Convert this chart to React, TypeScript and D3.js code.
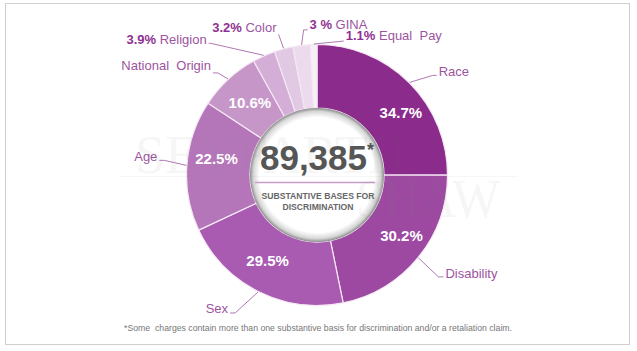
import React, { useEffect, useRef } from 'react';
import * as d3 from 'd3';

// chart values
const categories = ['Race', 'Disability', 'Sex', 'Age', 'National  Origin', 'Religion', 'Color', 'GINA', 'Equal  Pay'];
const percents = [34.7, 30.2, 29.5, 22.5, 10.6, 3.9, 3.2, 3, 1.1];
const percentLabels = ['34.7%', '30.2%', '29.5%', '22.5%', '10.6%', '3.9%', '3.2%', '3 %', '1.1%'];
const labelInside = [true, true, true, true, true, false, false, false, false];
const sliceColors = ['#8b2b8c', '#9d49a1', '#a95bb1', '#b576b9', '#c696c9', '#d4aed6', '#e1c8e3', '#ecdbed', '#f7eff7'];
const totalText = '89,385';
const subtitleLines = ['SUBSTANTIVE BASES FOR', 'DISCRIMINATION'];
const footnote = '*Some  charges contain more than one substantive basis for discrimination and/or a retaliation claim.';

// label placement tweaks (layout only)
const insideNudge = [[14, 7], [8, -2], [-5, -3], [-2, -9], [0, 0]];
const elbows = [[23, -7], [20, 19], [-23, 21], [-22, -5], [-10, -6], [-53, -12], [-5, -14], [2, -15], [30, -3]];
const tails = [4, 5, -5, -5, -5, -2, 0, 4, 0];
const labelDy = [1, 1, 0, 1, -3, 1, -2, -1, -1];

const W = 637;
const H = 351;

const DonutChart = () => {
  const svgRef = useRef(null);

  useEffect(() => {
    const cx = 317;
    const cy = 175;
    const innerR = 67;
    const outerR = 130.5;

    const root = d3.select(svgRef.current);
    root.selectAll('*').remove();
    root.attr('width', W).attr('height', H);

    // white rim gradient for the hole
    const defs = root.append('defs');
    const grad = defs.append('radialGradient').attr('id', 'hole');
    grad.append('stop').attr('offset', '0%').attr('stop-color', '#fff');
    grad.append('stop').attr('offset', '86%').attr('stop-color', '#fff');
    grad.append('stop').attr('offset', '95%').attr('stop-color', '#d6d6d6');
    grad.append('stop').attr('offset', '100%').attr('stop-color', '#8c8c8c');

    root.append('rect')
      .attr('x', 5.5).attr('y', 3.5)
      .attr('width', 624).attr('height', 341)
      .attr('fill', '#fff')
      .attr('stroke', '#cfcfcf');

    const g = root.append('g').attr('transform', `translate(${cx},${cy})`);

    const pie = d3.pie().sort(null).value((d) => d);
    const arcs = pie(percents);
    const arc = d3.arc().innerRadius(innerR).outerRadius(outerR);
    const edgeArc = d3.arc().innerRadius(outerR + 0.5).outerRadius(outerR + 0.5);

    g.selectAll('path.slice')
      .data(arcs)
      .enter()
      .append('path')
      .attr('class', 'slice')
      .attr('d', arc)
      .attr('fill', (d, i) => sliceColors[i])
      .attr('stroke', '#f4e8f4')
      .attr('stroke-width', 1.2);

    // hole
    g.append('circle').attr('r', innerR).attr('fill', 'url(#hole)');

    // watermark
    const wm = root.append('g').attr('fill', '#7a7a7a').attr('opacity', 0.06)
      .style('font-family', '"Liberation Serif", "DejaVu Serif", serif');
    wm.append('text').attr('x', 135).attr('y', 173).attr('font-size', 54)
      .attr('textLength', 272).attr('lengthAdjust', 'spacingAndGlyphs').text('SEYFARTH');
    wm.append('text').attr('x', 356).attr('y', 217).attr('font-size', 54)
      .attr('textLength', 144).attr('lengthAdjust', 'spacingAndGlyphs').text('SHAW');
    wm.append('line').attr('x1', 120).attr('x2', 518).attr('y1', 176.5).attr('y2', 176.5)
      .attr('stroke', '#7a7a7a').attr('stroke-width', 1);

    // inside percentages
    g.selectAll('text.pct')
      .data(arcs.filter((d, i) => labelInside[i]))
      .enter()
      .append('text')
      .attr('class', 'pct')
      .attr('x', (d, i) => arc.centroid(d)[0] + insideNudge[i][0])
      .attr('y', (d, i) => arc.centroid(d)[1] + insideNudge[i][1])
      .attr('dy', '0.36em')
      .attr('text-anchor', 'middle')
      .attr('fill', '#fff')
      .style('font-family', 'Arial, "Liberation Sans", sans-serif')
      .style('font-weight', 'bold')
      .style('font-size', '15px')
      .text((d) => percentLabels[d.index]);

    // leader lines + outside labels
    arcs.forEach((d, i) => {
      const [sx, sy] = edgeArc.centroid(d);
      const ex = sx + elbows[i][0];
      const ey = sy + elbows[i][1];
      const tx = ex + tails[i];
      g.append('polyline')
        .attr('points', `${sx},${sy} ${ex},${ey} ${tx},${ey}`)
        .attr('fill', 'none')
        .attr('stroke', '#a66aa9')
        .attr('stroke-width', 0.9);

      const right = tails[i] > 0 || (tails[i] === 0 && elbows[i][0] > 0);
      const t = g.append('text')
        .attr('x', tx + (right ? 2 : -2))
        .attr('y', ey + labelDy[i])
        .attr('text-anchor', right ? 'start' : 'end')
        .attr('fill', '#9c54a0')
        .style('font-family', 'Arial, "Liberation Sans", sans-serif')
        .style('font-size', '13px')
        .style('white-space', 'pre');
      if (!labelInside[i]) {
        t.append('tspan').attr('fill', '#8e3191').style('font-weight', 'bold').text(percentLabels[i] + ' ');
      }
      t.append('tspan').text(categories[i]);
    });

    // centre text
    const num = g.append('text')
      .attr('x', 0).attr('y', -5)
      .attr('text-anchor', 'middle')
      .attr('fill', '#555')
      .style('font-family', 'Arial, "Liberation Sans", sans-serif')
      .style('font-weight', 'bold')
      .style('font-size', '35px');
    num.append('tspan').text(totalText);
    num.append('tspan').attr('dy', -14).style('font-size', '18px').text('*');

    g.append('line')
      .attr('x1', -62).attr('x2', 58)
      .attr('y1', 7.5).attr('y2', 7.5)
      .attr('stroke', '#c79bca').attr('stroke-width', 1.5);

    g.selectAll('text.sub')
      .data(subtitleLines)
      .enter()
      .append('text')
      .attr('class', 'sub')
      .attr('x', 1)
      .attr('y', (d, i) => 24 + i * 11)
      .attr('text-anchor', 'middle')
      .attr('fill', '#666')
      .attr('textLength', (d, i) => (i === 0 ? 113 : 71))
      .attr('lengthAdjust', 'spacingAndGlyphs')
      .style('font-family', 'Arial, "Liberation Sans", sans-serif')
      .style('font-weight', 'bold')
      .style('font-size', '9.5px')
      .text((d) => d);

    root.append('text')
      .attr('x', 318).attr('y', 331)
      .attr('text-anchor', 'middle')
      .attr('fill', '#777')
      .attr('textLength', 388)
      .attr('lengthAdjust', 'spacingAndGlyphs')
      .style('font-family', 'Arial, "Liberation Sans", sans-serif')
      .style('font-size', '9px')
      .style('white-space', 'pre')
      .text(footnote);
  }, []);

  return <svg ref={svgRef} style={{ position: 'absolute', left: 0, top: 0 }}></svg>;
};

export default function App() {
  return <DonutChart />;
}
